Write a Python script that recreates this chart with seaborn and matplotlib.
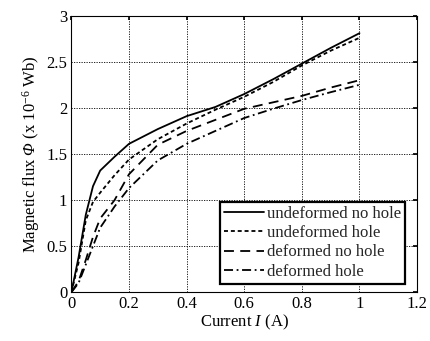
import matplotlib
matplotlib.use('Agg')

import matplotlib.pyplot as plt
import seaborn as sns
import pandas as pd

# current (A)
current = [0, 0.025, 0.05, 0.075, 0.1, 0.15, 0.2, 0.3, 0.4, 0.5, 0.6, 0.7, 0.8, 0.9, 1.0]

# magnetic flux (x 1e-6 Wb)
undeformed_no_hole = [0, 0.38, 0.84, 1.15, 1.32, 1.47, 1.61, 1.77, 1.91, 2.01, 2.15, 2.31, 2.48, 2.65, 2.81]
undeformed_hole = [0, 0.32, 0.78, 0.98, 1.08, 1.27, 1.44, 1.66, 1.83, 1.98, 2.12, 2.28, 2.46, 2.62, 2.76]
deformed_no_hole = [0, 0.12, 0.35, 0.60, 0.80, 1.00, 1.28, 1.60, 1.75, 1.87, 1.99, 2.06, 2.13, 2.22, 2.30]
deformed_hole = [0, 0.10, 0.30, 0.50, 0.70, 0.93, 1.13, 1.43, 1.61, 1.75, 1.89, 1.99, 2.085, 2.17, 2.25]

labels = ["undeformed no hole", "undeformed hole", "deformed no hole", "deformed hole"]
series = [undeformed_no_hole, undeformed_hole, deformed_no_hole, deformed_hole]
dash_styles = ["-", (0, (2.2, 1.6)), (0, (5.5, 3.5)), (0, (5, 2, 1, 2))]

sns.set_theme(style="white")
plt.rcParams['font.family'] = ['Liberation Serif', 'DejaVu Serif']
plt.rcParams['mathtext.fontset'] = 'custom'
plt.rcParams['mathtext.rm'] = 'Liberation Serif'
plt.rcParams['mathtext.it'] = 'Liberation Serif:italic'
# italic greek capital: use the sf slot (mathtext forces Greek capitals upright in 'it')
plt.rcParams['mathtext.sf'] = 'Liberation Serif:italic'

fig = plt.figure(figsize=(4.3, 3.41), dpi=100)
ax = fig.add_axes([0.166, 0.143, 0.804, 0.811])

for lab, vals, ls in zip(labels, series, dash_styles):
    df = pd.DataFrame({"I": current, "phi": vals})
    sns.lineplot(data=df, x="I", y="phi", ax=ax, color="black", linewidth=1.3,
                 linestyle=ls, label=lab)

ax.set_xlim(0, 1.2)
ax.set_ylim(0, 3)
ax.set_xticks([0, 0.2, 0.4, 0.6, 0.8, 1, 1.2])
ax.set_xticklabels(["0", "0.2", "0.4", "0.6", "0.8", "1", "1.2"])
ax.set_yticks([0, 0.5, 1, 1.5, 2, 2.5, 3])
ax.set_yticklabels(["0", "0.5", "1", "1.5", "2", "2.5", "3"])
ax.grid(True, color="black", linestyle=(0, (1.5, 1.5)), linewidth=0.6)
ax.tick_params(axis="both", direction="in", length=3, labelsize=12, colors="black",
               top=True, right=True, pad=3)
for sp in ax.spines.values():
    sp.set_color("black")
    sp.set_linewidth(0.8)

ax.set_xlabel("Current $\\mathit{I}$ (A)", fontsize=12, color="black", labelpad=0)
ax.set_ylabel("Magnetic flux $\\mathsf{\\Phi}$ (x 10$^{-6}$ Wb)", fontsize=12, color="black", labelpad=3)

leg = ax.legend(loc="lower right", bbox_to_anchor=(0.965, 0.03), fontsize=12,
                frameon=True, fancybox=False, handlelength=2.4, handletextpad=0.15,
                borderpad=0.25, labelspacing=0.2, borderaxespad=0)
leg.get_frame().set_edgecolor("black")
leg.get_frame().set_linewidth(1.6)
leg.get_frame().set_alpha(1)

fig.savefig("out.png", dpi=100)
